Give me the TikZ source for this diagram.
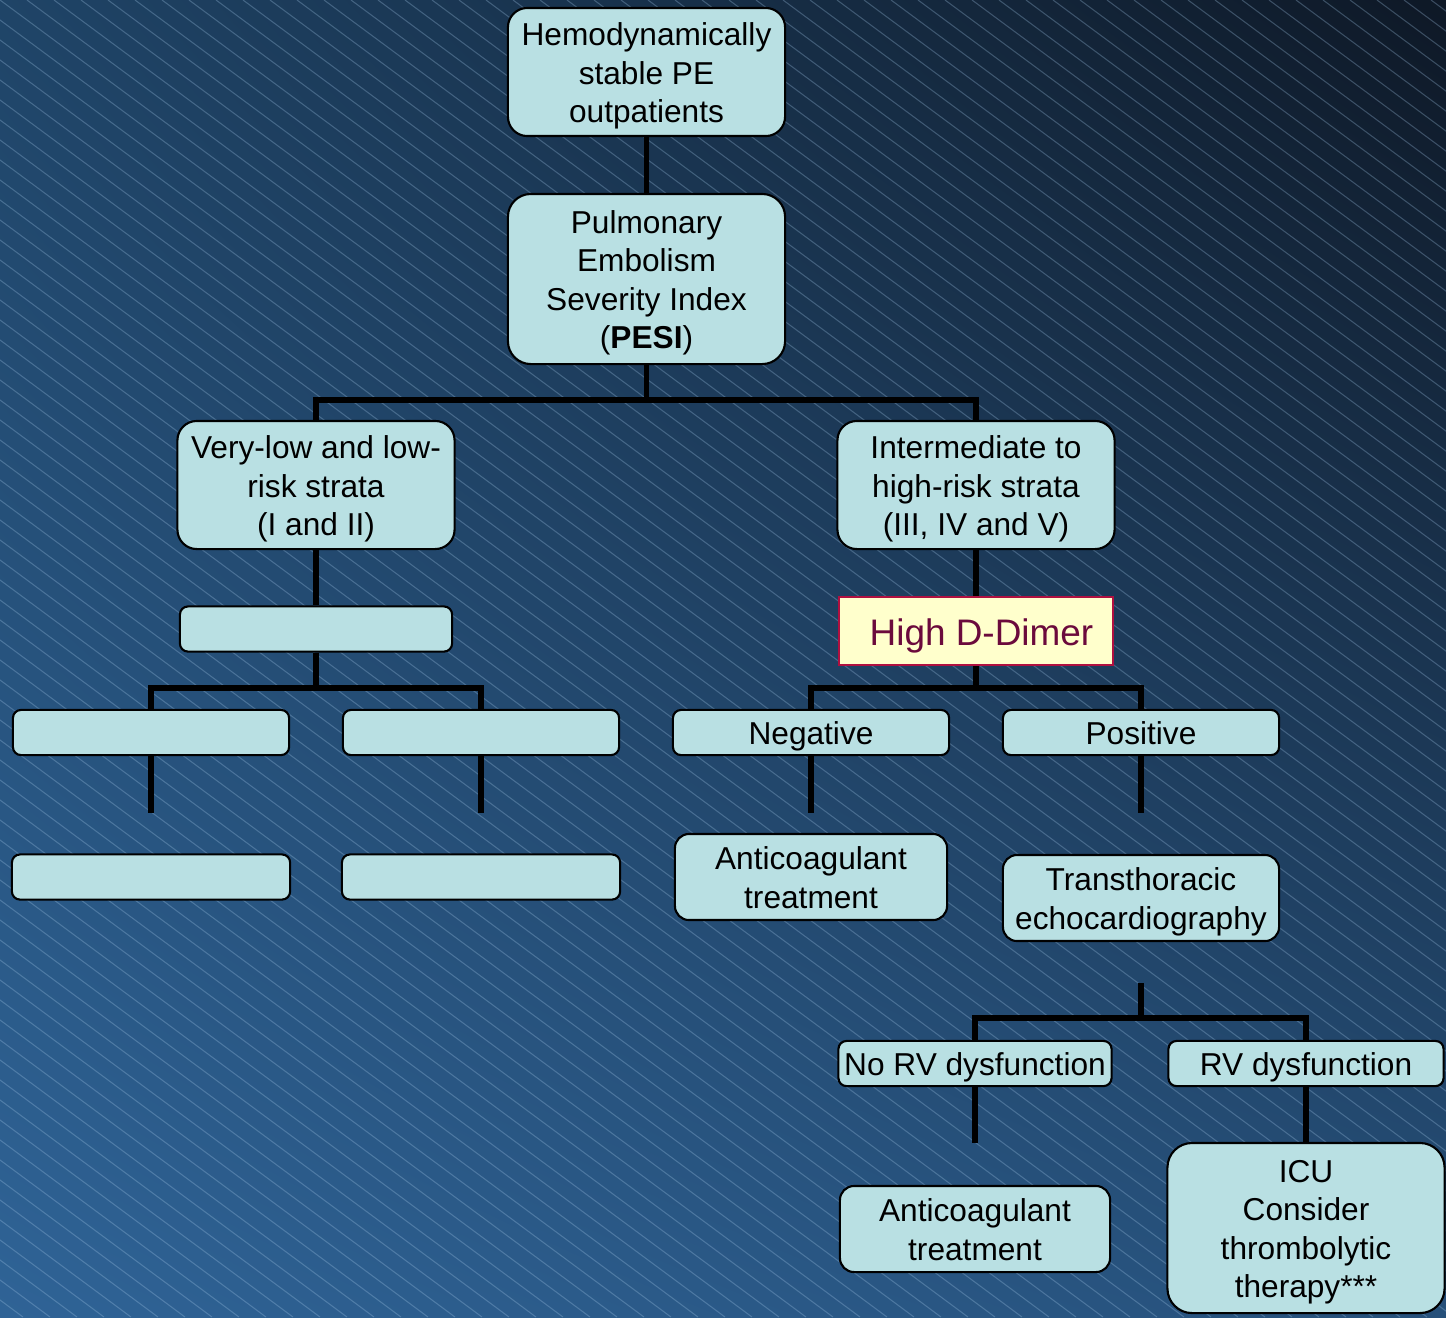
\documentclass[tikz,border=0pt]{standalone}
\usepackage{fontspec}
\setmainfont{Liberation Sans}
\usetikzlibrary{calc, shadings}

\definecolor{boxfill}{HTML}{B9E0E3}
\definecolor{alertfill}{HTML}{FFFFCC}
\definecolor{alertline}{HTML}{B01040}
\definecolor{alerttext}{HTML}{6B0A3C}
\definecolor{bgtl}{HTML}{1F4467}
\definecolor{bgtr}{HTML}{0E1826}
\definecolor{bgbl}{HTML}{2F6396}
\definecolor{bgbr}{HTML}{26507A}
\definecolor{hatchline}{HTML}{A0C4E4}

% line strut, keeps the text blocks at the same height in every box
\newcommand{\ls}{\rule[-2pt]{0pt}{10.85pt}}

\begin{document}
\begin{tikzpicture}[
      x=0.01cm, y=-0.01cm,
      box/.style={rectangle, draw=black, line width=0.6pt, fill=boxfill,
                  rounded corners=5.5pt, minimum width=2.77cm, minimum height=1.28cm,
                  align=center, inner sep=1pt, font=\fontsize{9}{10.9}\selectfont},
      slim/.style={box, rounded corners=2.3pt, minimum width=2.76cm, minimum height=0.44cm,
                   text height=8.85pt, text depth=2pt},
      alert/.style={rectangle, draw=alertline, line width=0.6pt, fill=alertfill,
                    text=alerttext, minimum width=2.76cm, minimum height=0.64cm,
                    text height=10.4pt, text depth=2.3pt,
                    font=\fontsize{10.5}{12}\selectfont},
      conn/.style={line width=1.45pt},
      hatch/.style={draw=hatchline, draw opacity=0.3, line width=0.3pt}
    ]
    \useasboundingbox (0,0) rectangle (1446,1317);
    % background
    \shade[upper left=bgtl, upper right=bgtr, lower left=bgbl, lower right=bgbr]
      (0,0) rectangle (1446,1317);
    \begin{scope}
      \clip (0,0) rectangle (1446,1317);
      \foreach \k in {-66,...,54}
        \draw[hatch] ({\k*27},0) -- ++(1778,1317);
    \end{scope}

    % top of the tree
    \node[box] (stable) at (646.5,72) {\ls Hemodynamically\\stable PE\\outpatients\ls};
    \node[box, minimum height=1.70cm, rounded corners=6.5pt] (pesi) at (646.5,279)
      {\ls Pulmonary\\Embolism\\Severity Index\\(\textbf{PESI})\ls};
    \node[box] (low)   at (316,485) {\ls Very-low and low-\\risk strata\\(I and II)\ls};
    \node[box] (inter) at (976,485) {\ls Intermediate to\\high-risk strata\\(III, IV and V)\ls};

    % low-risk branch
    \node[slim, minimum width=2.72cm] (lowsub) at (316,629) {};
    \node[slim] (lowa) at (151,732.5) {};
    \node[slim] (lowb) at (481,732.5) {};
    \node[slim, minimum width=2.78cm] (lowc) at (151,877) {};
    \node[slim, minimum width=2.78cm] (lowd) at (481,877) {};

    % high-risk branch
    \node[alert, minimum width=2.74cm] (ddimer) at (976,631) {\hspace{3.1pt}High D-Dimer};
    \node[slim] (neg) at (811,732.5)  {Negative};
    \node[slim] (pos) at (1141,732.5) {Positive};
    \node[box, minimum width=2.72cm, minimum height=0.86cm, rounded corners=4pt]
      (anti) at (811,877) {\ls Anticoagulant\\treatment\ls};
    \node[box, minimum width=2.76cm, minimum height=0.86cm, rounded corners=4pt]
      (tte) at (1141,898) {\ls Transthoracic\\echocardiography\ls};
    \node[slim, minimum width=2.73cm] (norv) at (975,1063.5)  {No RV dysfunction};
    \node[slim, minimum width=2.75cm] (rv)   at (1306,1063.5) {RV dysfunction};
    \node[box, minimum width=2.70cm, minimum height=0.86cm, rounded corners=4pt]
      (anti2) at (975,1229) {\ls Anticoagulant\\treatment\ls};
    \node[box, minimum height=1.70cm, rounded corners=7pt] (icu) at (1306,1228)
      {\ls ICU\\Consider\\thrombolytic\\therapy***\ls};

    % junctions and free ends
    \coordinate (split1) at (646.5,400);
    \coordinate (split2) at (316,688);
    \coordinate (split3) at (976,688);
    \coordinate (split4) at (1141,1018);
    \coordinate (enda)   at (151,813);
    \coordinate (endb)   at (481,813);
    \coordinate (endneg) at (811,813);
    \coordinate (endpos) at (1141,813);
    \coordinate (starttte) at (1141,983);
    \coordinate (endnorv)  at (975,1143);

    % connectors
    \draw[conn] (stable) -- (pesi);
    \draw[conn] (pesi) -- (split1);
    \draw[conn] (low) |- (split1) -| (inter);
    \draw[conn] (low) -- (lowsub);
    \draw[conn] (lowsub) -- (split2);
    \draw[conn] (lowa) |- (split2) -| (lowb);
    \draw[conn] (lowa) -- (enda);
    \draw[conn] (lowb) -- (endb);
    \draw[conn] (inter) -- (ddimer);
    \draw[conn] (ddimer) -- (split3);
    \draw[conn] (neg) |- (split3) -| (pos);
    \draw[conn] (neg) -- (endneg);
    \draw[conn] (pos) -- (endpos);
    \draw[conn] (starttte) -- (split4);
    \draw[conn] (norv) |- (split4) -| (rv);
    \draw[conn] (norv) -- (endnorv);
    \draw[conn] (rv) -- (icu);
  \end{tikzpicture}
\end{document}
